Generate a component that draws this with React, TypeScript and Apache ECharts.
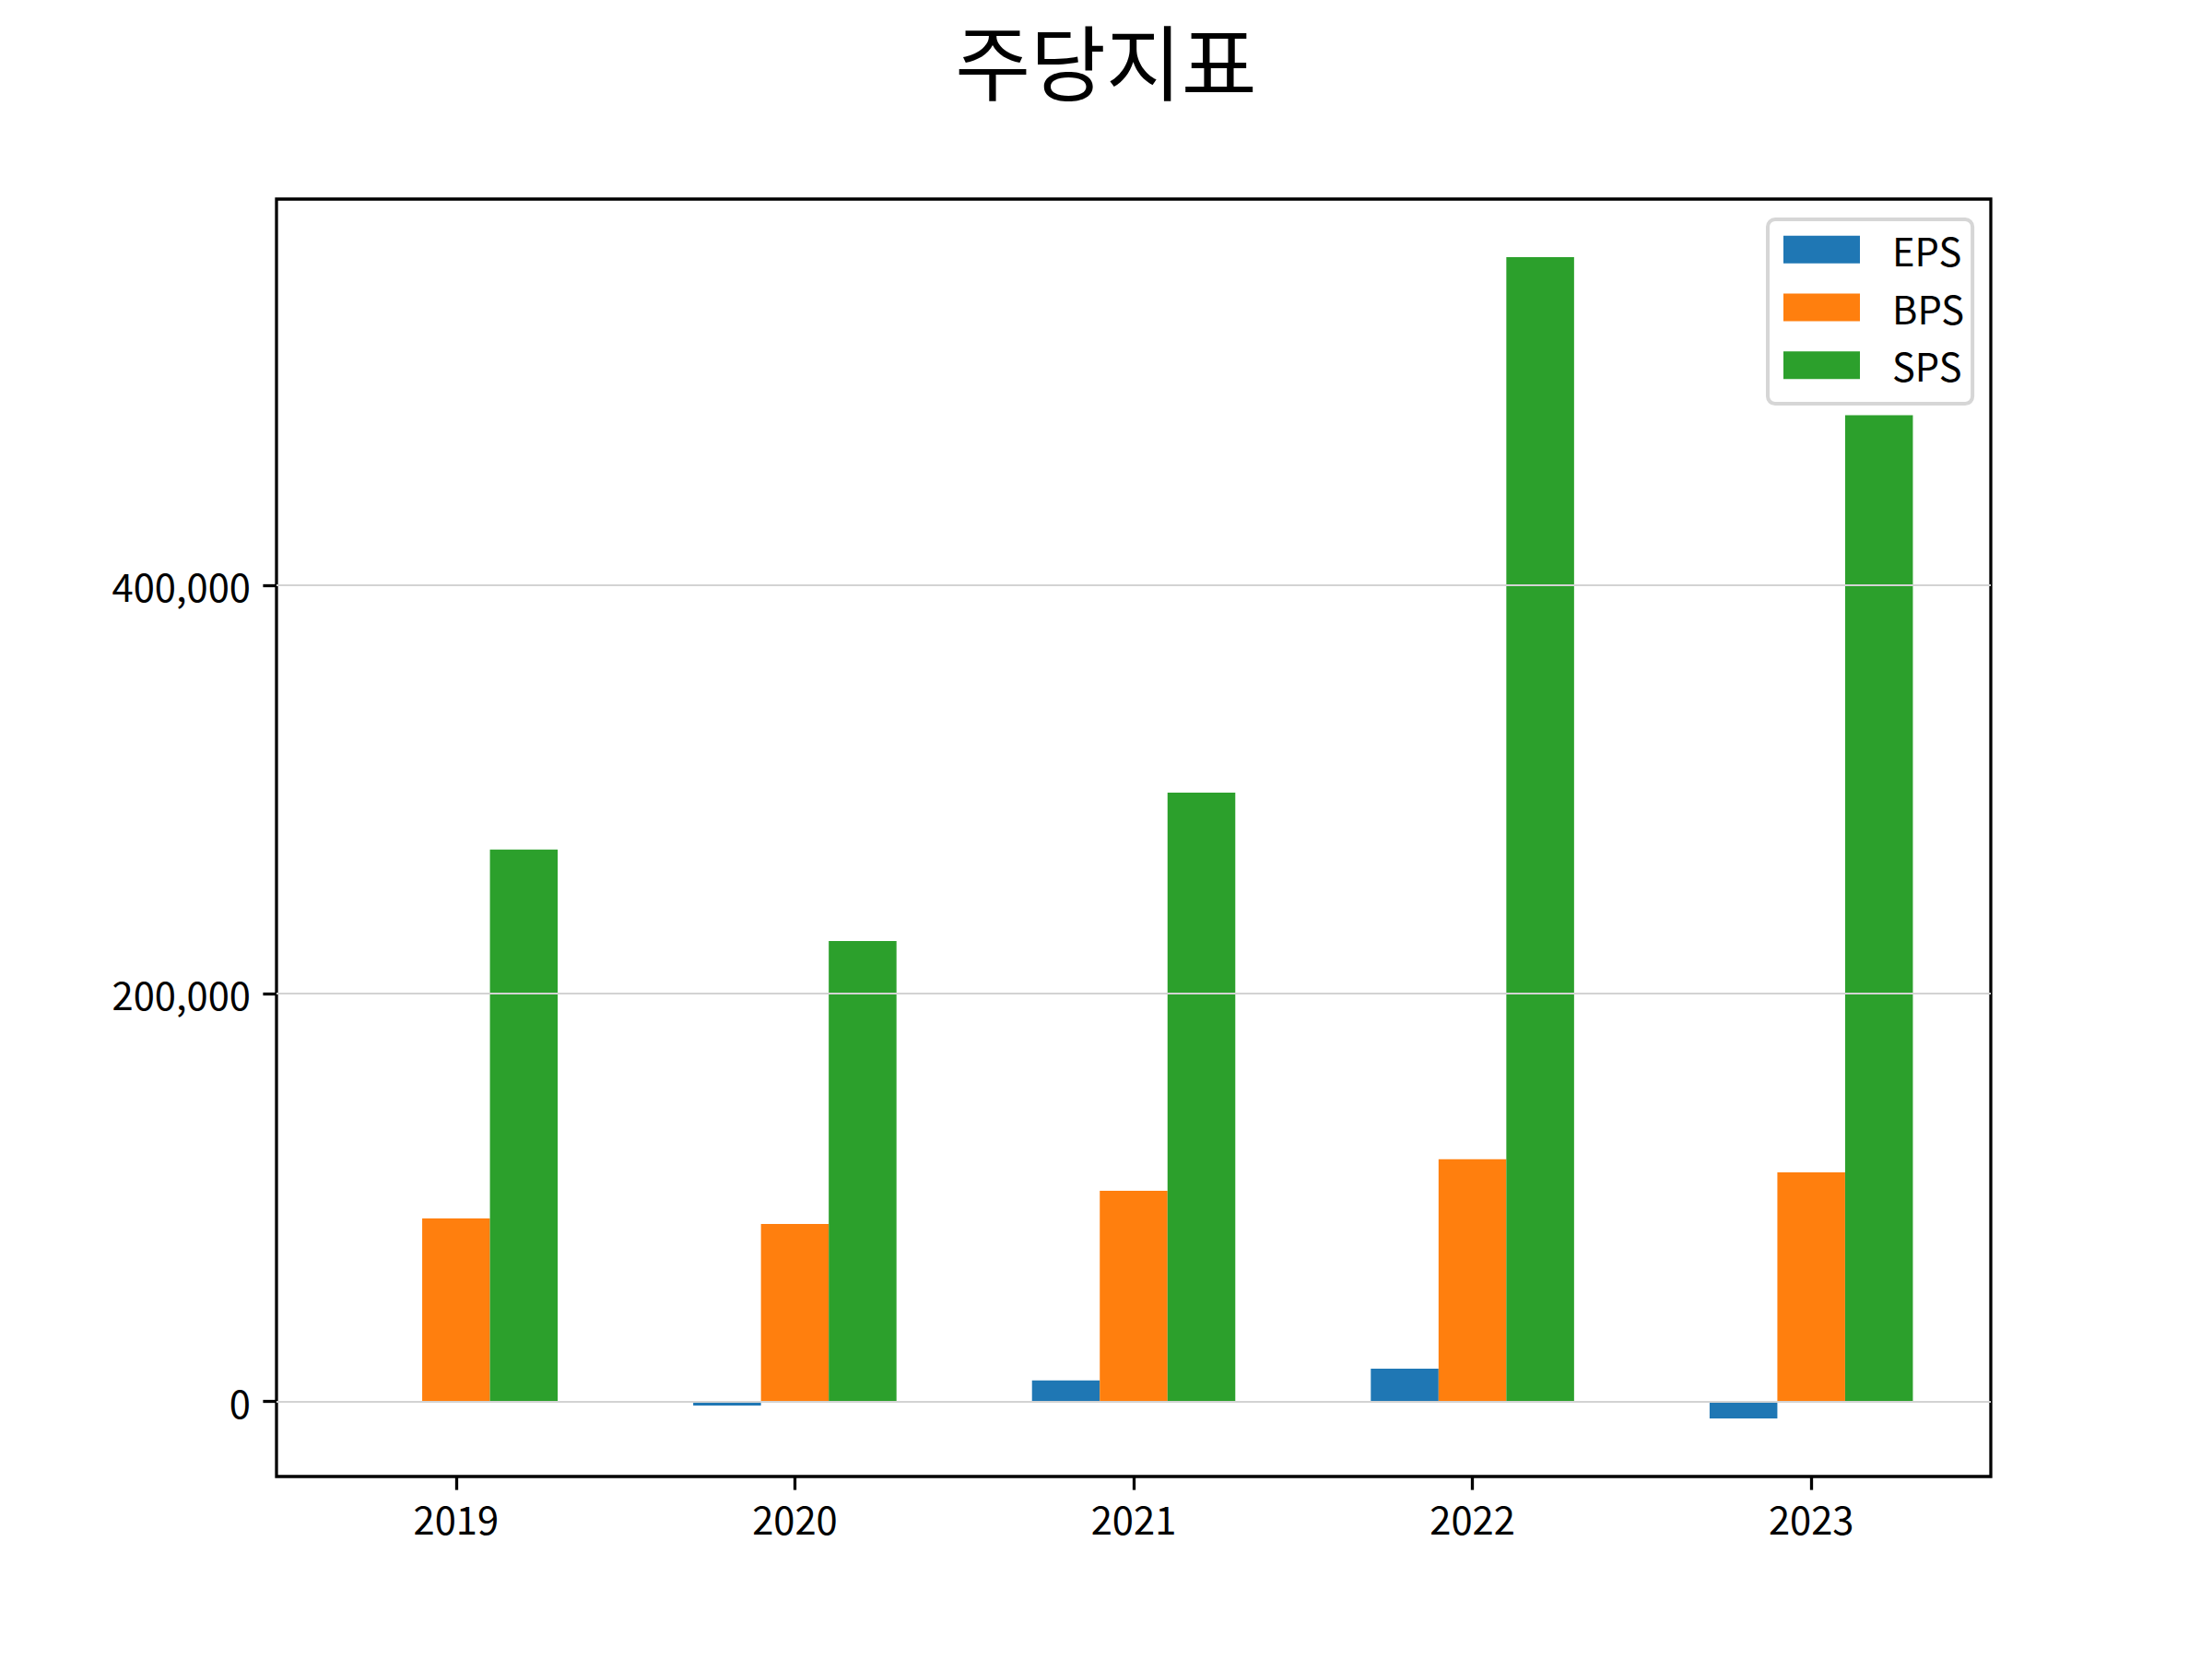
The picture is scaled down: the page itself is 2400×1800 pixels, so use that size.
import React, { useEffect, useRef } from "react";
import * as echarts from "echarts";

const years = ["2019", "2020", "2021", "2022", "2023"];
const seriesNames = ["EPS", "BPS", "SPS"];
const eps = [0, -2000, 10300, 16100, -8300];
const bps = [89700, 87000, 103300, 118700, 112300];
const sps = [270500, 225700, 298400, 560800, 483300];
const yTickValues = [0, 200000, 400000];
const colors = ["#1f77b4", "#ff7f0e", "#2ca02c"];

const BAR_W = 0.2;
const OFFSETS = [-0.2, 0, 0.2];
const FONT = "'Noto Sans CJK KR', 'Noto Sans', sans-serif";
const FS = 41.7;

export default function App() {
  const ref = useRef<HTMLDivElement>(null);

  useEffect(() => {
    document.body.style.margin = "0";
    const chart = echarts.init(ref.current!, null, { renderer: "svg" });

    const values = [eps, bps, sps];
    const all = ([] as number[]).concat(eps, bps, sps, [0]);
    const dMin = Math.min(...all);
    const dMax = Math.max(...all);
    const yMin = dMin - 0.05 * (dMax - dMin);
    const yMax = dMax + 0.05 * (dMax - dMin);
    const xLo = -0.2 - BAR_W / 2;
    const xHi = years.length - 1 + 0.2 + BAR_W / 2;
    const xMin = xLo - 0.05 * (xHi - xLo);
    const xMax = xHi + 0.05 * (xHi - xLo);
    const xTickValues = years.map((_, i) => i);

    const renderItem = (params: any, api: any) => {
      const x = api.value(0);
      const v = api.value(1);
      const a = api.coord([x - BAR_W / 2, v]);
      const b = api.coord([x + BAR_W / 2, 0]);
      return {
        type: "rect",
        shape: {
          x: a[0],
          y: Math.min(a[1], b[1]),
          width: b[0] - a[0],
          height: Math.abs(b[1] - a[1]),
        },
        style: { fill: api.visual("color") },
      };
    };

    chart.setOption({
      animation: false,
      backgroundColor: "#ffffff",
      title: {
        text: "주당지표",
        left: "center",
        top: 14,
        textStyle: {
          fontFamily: FONT,
          fontSize: 89,
          lineHeight: 89,
          fontWeight: "normal",
          color: "#000",
        },
      },
      legend: {
        data: seriesNames,
        orient: "vertical",
        left: 1918,
        top: 238,
        icon: "rect",
        itemWidth: 83,
        itemHeight: 30,
        itemGap: 21,
        padding: [12, 9, 21, 17],
        borderColor: "#d6d6d6",
        borderWidth: 4,
        borderRadius: 8,
        backgroundColor: "#ffffff",
        textStyle: {
          fontFamily: FONT,
          fontSize: FS,
          color: "#000",
          padding: [0, 0, 0, 30],
        },
      },
      grid: {
        left: 300,
        right: 240,
        top: 216,
        bottom: 198,
        show: true,
        borderColor: "#000",
        borderWidth: 3.3,
        backgroundColor: "transparent",
      },
      xAxis: {
        type: "value",
        min: xMin,
        max: xMax,
        axisLine: { show: false, onZero: false },
        splitLine: { show: false },
        axisTick: {
          show: true,
          customValues: xTickValues,
          length: 14.6,
          lineStyle: { color: "#000", width: 3.3 },
        },
        axisLabel: {
          customValues: xTickValues,
          formatter: (v: number) => years[Math.round(v)] ?? "",
          margin: 24,
          fontFamily: FONT,
          fontSize: FS,
          color: "#000",
        },
      },
      yAxis: {
        type: "value",
        min: yMin,
        max: yMax,
        splitNumber: 3,
        axisLine: { show: false, onZero: false },
        splitLine: {
          show: true,
          showMinLine: true,
          showMaxLine: true,
          lineStyle: { color: "#d3d3d3", width: 2 },
        },
        axisTick: {
          show: true,
          customValues: yTickValues,
          length: 14.6,
          lineStyle: { color: "#000", width: 3.3 },
        },
        axisLabel: {
          customValues: yTickValues,
          formatter: (v: number) => Math.round(v).toLocaleString("en-US"),
          margin: 28,
          fontFamily: FONT,
          fontSize: FS,
          color: "#000",
        },
      },
      series: seriesNames.map((name, s) => ({
        name,
        type: "custom",
        z: -1,
        itemStyle: { color: colors[s] },
        encode: { x: 0, y: 1 },
        renderItem,
        data: values[s].map((v, i) => [i + OFFSETS[s], v]),
      })),
    });

    return () => chart.dispose();
  }, []);

  return <div ref={ref} style={{ width: 2400, height: 1800 }} />;
}
